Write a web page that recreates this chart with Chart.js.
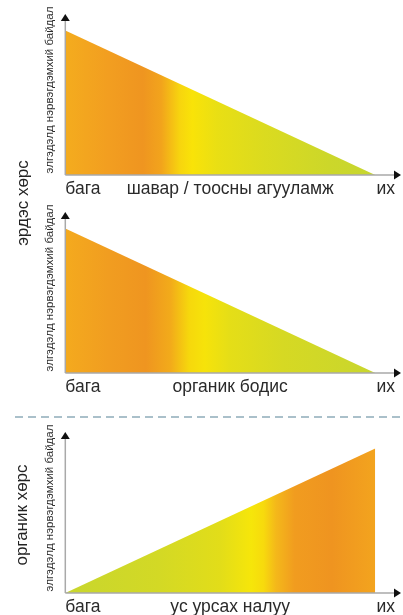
<!DOCTYPE html>
<html>
<head>
<meta charset="utf-8">
<script src="https://cdn.jsdelivr.net/npm/chart.js@4.4.1/dist/chart.umd.min.js"></script>
<style>
  body { margin: 0; background: #fff; width: 403px; height: 615px; overflow: hidden; position: relative; font-family: "Liberation Sans", Arial, sans-serif; }
  .panel { position: absolute; left: 0; width: 403px; height: 204px; }
  .side { position: absolute; font-size: 17px; color: #222; white-space: nowrap; transform: translate(-50%, -50%) rotate(-90deg); }
  .sep { position: absolute; left: 15px; right: 0; top: 416px; height: 1.5px;
         background: repeating-linear-gradient(to right, #aac0ca 0 8px, transparent 8px 13px); }
</style>
</head>
<body>
<div class="panel" style="top:0"><canvas id="clayChart"></canvas></div>
<div class="panel" style="top:198px"><canvas id="organicChart"></canvas></div>
<div class="panel" style="top:418px"><canvas id="slopeChart"></canvas></div>
<div class="side" style="left:23px; top:203px">эрдэс хөрс</div>
<div class="side" style="left:22px; top:515px">органик хөрс</div>
<div class="sep"></div>
<script>
// ---- data ----
const xTicks = [0, 50, 100];
const clayLabels = ['бага', 'шавар / тоосны агууламж', 'их'];
const organicLabels = ['бага', 'органик бодис', 'их'];
const slopeLabels = ['бага', 'ус урсах налуу', 'их'];
const xPoints = [0, 94];
const clayValues = [85, 0];
const organicValues = [85, 0];
const slopeValues = [0, 85];
const yTitle = 'элгэдэлд нэрвэгдэмхий байдал';

// gradient stops (left -> right along the filled area)
const orangeFirst = [
  [0, '#f4ac1e'], [0.14, '#f29e20'], [0.25, '#ef9520'], [0.31, '#f2a41c'],
  [0.37, '#f7d50e'], [0.41, '#f9e308'], [0.49, '#e9df14'], [0.64, '#dbdb1f'],
  [0.85, '#ccd72a'], [1, '#c6d630']
];
const orangeFirst2 = [
  [0, '#f4aa1e'], [0.14, '#f19d20'], [0.26, '#ef9520'], [0.34, '#f2ab1a'],
  [0.40, '#f6d80c'], [0.45, '#f6e30a'], [0.53, '#e5de17'], [0.7, '#d6d923'],
  [1, '#c8d62e']
];
const greenFirst = [
  [0, '#c8d62e'], [0.3, '#d3d925'], [0.5, '#e2dd19'], [0.6, '#f6e60a'],
  [0.64, '#f7da0d'], [0.68, '#f4b81a'], [0.74, '#f19c1f'], [0.86, '#ef9420'],
  [1, '#f3a41e']
];

// axis lines with arrow heads
const arrowAxes = {
  id: 'arrowAxes',
  afterDraw(chart) {
    const { ctx, chartArea: a } = chart;
    ctx.save();
    ctx.strokeStyle = '#a9a9a9';
    ctx.lineWidth = 1.5;
    ctx.beginPath();
    ctx.moveTo(a.left, a.bottom);
    ctx.lineTo(a.left, a.top + 16);
    ctx.moveTo(a.left, a.bottom);
    ctx.lineTo(a.right, a.bottom);
    ctx.stroke();
    ctx.fillStyle = '#111';
    ctx.beginPath();
    ctx.moveTo(a.left, a.top + 9);
    ctx.lineTo(a.left - 4.5, a.top + 16);
    ctx.lineTo(a.left + 4.5, a.top + 16);
    ctx.closePath();
    ctx.fill();
    ctx.beginPath();
    ctx.moveTo(a.right + 6, a.bottom);
    ctx.lineTo(a.right - 1, a.bottom - 4.5);
    ctx.lineTo(a.right - 1, a.bottom + 4.5);
    ctx.closePath();
    ctx.fill();
    ctx.restore();
  }
};

function makeChart(id, values, labels, stops) {
  const ctx = document.getElementById(id).getContext('2d');
  return new Chart(ctx, {
    type: 'line',
    data: {
      datasets: [{
        data: xPoints.map((x, i) => ({ x: x, y: values[i] })),
        fill: 'origin',
        borderWidth: 0,
        pointRadius: 0,
        tension: 0,
        backgroundColor: (c) => {
          const chart = c.chart;
          if (!chart.chartArea) return 'transparent';
          const x0 = chart.scales.x.getPixelForValue(xPoints[0]);
          const x1 = chart.scales.x.getPixelForValue(xPoints[1]);
          const g = chart.ctx.createLinearGradient(x0, 0, x1, 0);
          stops.forEach(s => g.addColorStop(s[0], s[1]));
          return g;
        }
      }]
    },
    options: {
      responsive: true,
      maintainAspectRatio: false,
      animation: false,
      layout: { padding: { left: 42.5, right: 8, top: 5, bottom: 0 } },
      plugins: { legend: { display: false }, tooltip: { enabled: false } },
      scales: {
        x: {
          type: 'linear', min: 0, max: 100,
          grid: { display: false, drawTicks: false },
          border: { display: false },
          afterBuildTicks: (s) => { s.ticks = xTicks.map(v => ({ value: v })); },
          ticks: {
            align: 'inner', padding: 4, color: '#2a2a2a',
            maxRotation: 0, minRotation: 0, autoSkip: false,
            font: { family: '"Liberation Sans", Arial, sans-serif', size: 17.5 },
            callback: (v) => labels[xTicks.indexOf(v)]
          }
        },
        y: {
          min: 0, max: 100,
          grid: { display: false, drawTicks: false },
          border: { display: false },
          ticks: { display: false },
          title: {
            display: true, text: yTitle, color: '#2e2e2e',
            padding: { top: 0, bottom: 9 },
            font: { family: '"Liberation Sans", Arial, sans-serif', size: 11.5 }
          }
        }
      }
    },
    plugins: [arrowAxes]
  });
}

makeChart('clayChart', clayValues, clayLabels, orangeFirst);
makeChart('organicChart', organicValues, organicLabels, orangeFirst2);
makeChart('slopeChart', slopeValues, slopeLabels, greenFirst);
</script>
</body>
</html>
